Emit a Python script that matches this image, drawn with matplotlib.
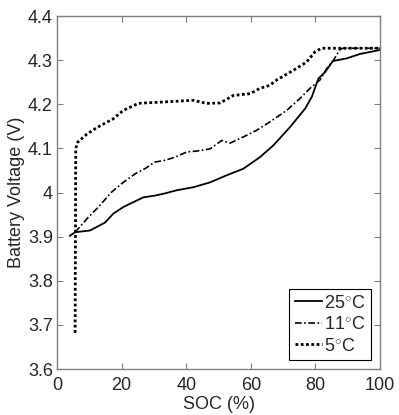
import matplotlib
matplotlib.use('Agg')
import matplotlib.pyplot as plt

# SOC (%) vs battery voltage (V)
soc_25 = [4.0, 5.6, 10.2, 14.9, 17.4, 20.5, 23.6, 26.7, 30.3, 33.4, 37.0, 42.2, 47.4,
          52.5, 57.7, 62.8, 67.0, 72.1, 76.8, 78.9, 80.9, 83.0, 85.4, 89.7, 93.8, 100.0]
volt_25 = [3.902, 3.910, 3.914, 3.932, 3.952, 3.967, 3.978, 3.989, 3.993, 3.998, 4.005, 4.012, 4.023,
           4.039, 4.054, 4.080, 4.107, 4.148, 4.190, 4.217, 4.258, 4.273, 4.298, 4.304, 4.314, 4.323]

soc_11 = [5.6, 9.7, 12.8, 16.9, 20.5, 24.1, 27.2, 30.3, 33.4, 36.5, 40.2, 43.3, 47.4, 51.0,
          53.6, 57.7, 61.8, 65.9, 71.1, 75.2, 78.3, 81.4, 83.5, 85.6, 87.6, 88.5, 100.0]
volt_11 = [3.910, 3.944, 3.967, 4.001, 4.023, 4.042, 4.054, 4.069, 4.073, 4.080, 4.092, 4.094, 4.099, 4.118,
           4.112, 4.126, 4.141, 4.160, 4.186, 4.213, 4.236, 4.255, 4.281, 4.300, 4.324, 4.327, 4.327]

soc_5 = [5.6, 5.7, 5.8, 6.4, 9.2, 12.3, 17.4, 20.5, 25.2, 27.2, 32.4, 42.2, 46.3, 50.5,
         54.6, 59.8, 62.8, 65.9, 68.0, 73.2, 77.3, 79.9, 81.9, 100.0]
volt_5 = [3.682, 3.90, 4.10, 4.114, 4.132, 4.147, 4.167, 4.186, 4.202, 4.203, 4.205, 4.209, 4.202, 4.203,
          4.220, 4.224, 4.236, 4.243, 4.255, 4.277, 4.296, 4.319, 4.327, 4.327]

labels = ['25$^{\\circ}$C', '11$^{\\circ}$C', '5$^{\\circ}$C']

plt.rcParams['font.family'] = ['Liberation Sans', 'DejaVu Sans']
plt.rcParams['mathtext.fontset'] = 'custom'
plt.rcParams['mathtext.rm'] = 'Liberation Sans'

fig = plt.figure(figsize=(3.99, 4.15), dpi=100)
ax = fig.add_axes([0.1429, 0.1108, 0.8095, 0.8506])

ax.plot(soc_25, volt_25, '-', color='black', lw=1.3, label=labels[0])
ax.plot(soc_11, volt_11, color='black', lw=1.2, dashes=(4, 1.5, 1, 1.5), label=labels[1])
ax.plot(soc_5, volt_5, color='black', lw=2.0, dashes=(1, 0.9), label=labels[2])

ax.set_xlim(0, 100)
ax.set_ylim(3.6, 4.4)
ax.set_xticks([0, 20, 40, 60, 80, 100])
ax.set_yticks([3.6, 3.7, 3.8, 3.9, 4.0, 4.1, 4.2, 4.3, 4.4])
ax.set_yticklabels(['3.6', '3.7', '3.8', '3.9', '4', '4.1', '4.2', '4.3', '4.4'])

for s in ax.spines.values():
    s.set_color('#808080')
    s.set_linewidth(1.0)
ax.tick_params(direction='in', length=4, width=0.8, color='#808080',
               top=True, right=True, labelsize=13, labelcolor='#262626')
ax.tick_params(axis='x', pad=6)
ax.tick_params(axis='y', pad=3)

ax.set_xlabel('SOC (%)', fontsize=13, color='#262626', labelpad=1)
ax.set_ylabel('Battery Voltage (V)', fontsize=13, color='#262626', labelpad=2)

leg = ax.legend(loc='lower right', fontsize=13, fancybox=False, framealpha=1,
                edgecolor='black', handlelength=1.5, handletextpad=0.15,
                borderpad=0.3, labelspacing=0.25, borderaxespad=0.5)
leg.get_frame().set_linewidth(0.8)
for t in leg.get_texts():
    t.set_color('#262626')

fig.savefig('out.png', dpi=100)
